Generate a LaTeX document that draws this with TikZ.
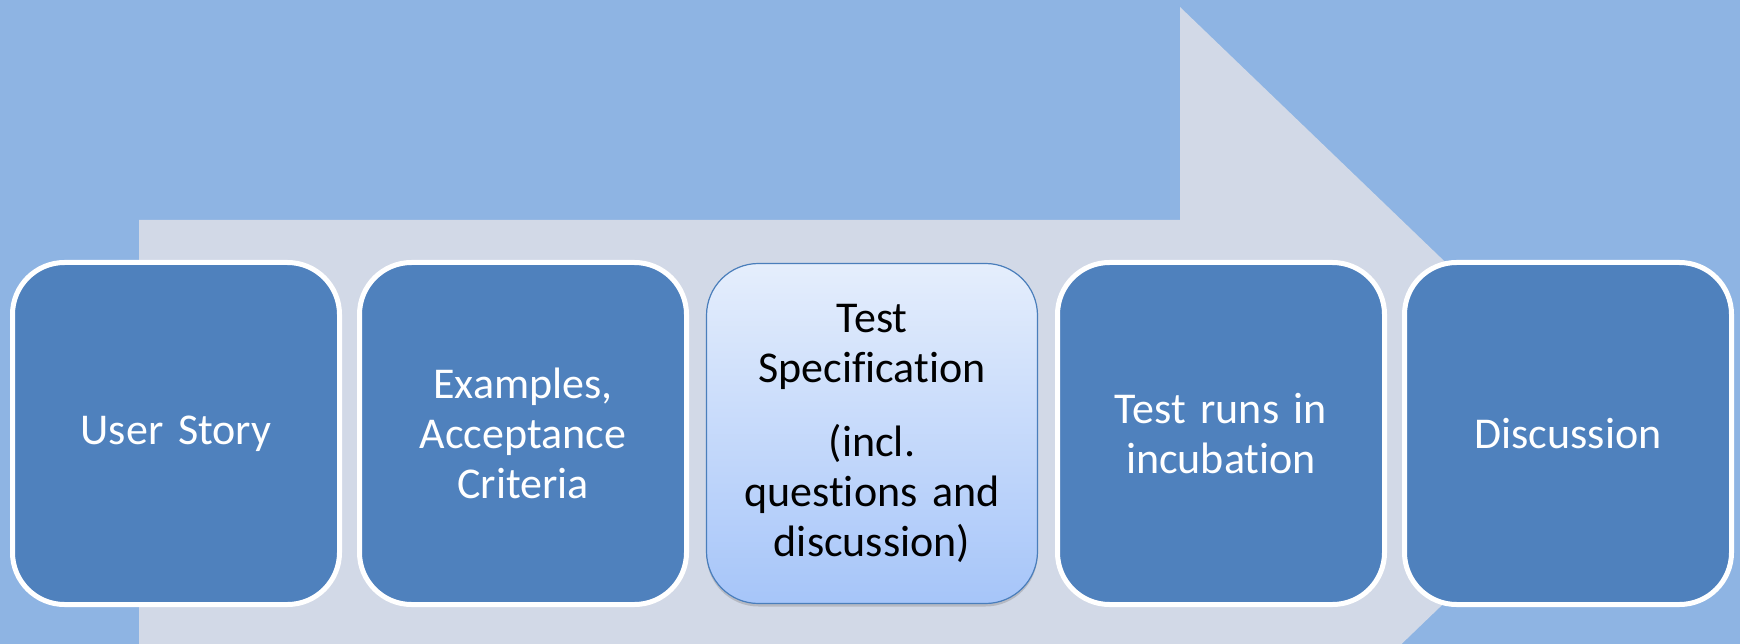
\documentclass[tikz,border=0pt]{standalone}
\usepackage{fontspec}
\setmainfont{Carlito}[Ligatures=NoCommon, WordSpace=0.85]
\usetikzlibrary{positioning,shadows}
\definecolor{bgblue}{HTML}{8EB4E3}
\definecolor{arrowgrey}{HTML}{D2D9E7}
\definecolor{stageblue}{HTML}{4F81BD}
\definecolor{hilitetop}{HTML}{E5EEFC}
\definecolor{hilitebot}{HTML}{A6C5F9}
\definecolor{hiliteline}{HTML}{4A7EBB}
\tikzset{
  stage/.style={rectangle, rounded corners=52pt, fill=stageblue, draw=white, line width=5pt,
    minimum width=327pt, minimum height=342pt, inner sep=0pt, outer sep=0pt,
    text width=310pt, align=center, text=white, font=\fontsize{44}{50}\selectfont},
  hilite/.style={stage, draw=hiliteline, line width=1.2pt, top color=hilitetop, bottom color=hilitebot,
    minimum width=331pt, minimum height=340pt, text=black,
    drop shadow={shadow xshift=0pt, shadow yshift=-3pt, opacity=0.35}}
}
\begin{document}
\begin{tikzpicture}[x=1pt, y=-1pt, node distance=20pt]
  \useasboundingbox (0,0) rectangle (1740,644);
  \clip (0,0) rectangle (1740,644);
  \fill[bgblue] (0,0) rectangle (1740,644);
  \fill[arrowgrey] (139,220) -- (1180,220) -- (1180,7) -- (1622,432) -- (1180,857)
    -- (1180,644) -- (139,644) -- cycle;
  \node[stage] (story) at (176,433.5) {User Story};
  \node[stage, right=of story] (examples) {Examples,\\ Acceptance\\ Criteria};
  \node[hilite, right=of examples] (spec) {Test\\ Specification\\[24pt] (incl.\\ questions and\\ discussion)};
  \node[stage, right=of spec] (runs) {Test runs in\\ incubation};
  \node[stage, right=of runs] (discuss) {Discussion};
\end{tikzpicture}
\end{document}
